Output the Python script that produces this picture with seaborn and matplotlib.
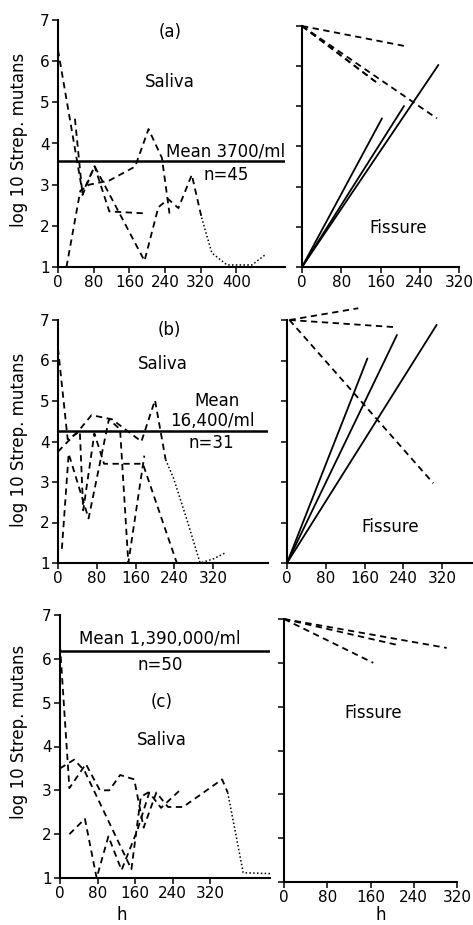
import numpy as np
import pandas as pd
import matplotlib
matplotlib.use('Agg')
import matplotlib.pyplot as plt
import seaborn as sns

# (a) saliva curves, h vs log10 count
a_s1_h = [0, 55, 82, 115, 200]
a_s1_y = [6.27, 2.8, 3.45, 2.35, 2.3]
a_s2_h = [38, 55, 82, 194, 225, 247, 270, 300, 322]
a_s2_y = [4.6, 2.75, 3.45, 1.15, 2.45, 2.65, 2.43, 3.24, 2.2]
a_s3_h = [19, 50, 70, 115, 173, 203, 233, 250]
a_s3_y = [1.0, 2.85, 3.0, 3.1, 3.44, 4.35, 3.65, 2.3]
a_dot_h = [322, 345, 379, 435, 465]
a_dot_y = [2.2, 1.34, 1.05, 1.05, 1.3]
a_mean = 3.57

# (a) fissure: end points of straight lines
a_f_dash_h = [214, 275, 159, 149]
a_f_dash_y = [6.49, 4.70, 5.53, 5.62]
a_f_solid_h = [163, 208, 278]
a_f_solid_y = [4.70, 5.01, 6.03]

# (b) saliva
b_s1_h = [0, 20, 45, 52, 75, 95, 175, 245, 285]
b_s1_y = [6.3, 4.05, 4.25, 2.3, 4.2, 3.45, 3.45, 1.0, 1.0]
b_s2_h = [8, 22, 63, 105, 128, 145, 178]
b_s2_y = [1.35, 3.7, 2.1, 4.55, 4.3, 1.0, 3.65]
b_s3_h = [0, 45, 69, 111, 172, 200, 222]
b_s3_y = [3.75, 4.3, 4.65, 4.55, 4.0, 5.02, 3.55]
b_dot_h = [222, 238, 265, 293, 320, 345]
b_dot_y = [3.55, 3.1, 2.1, 1.0, 1.1, 1.25]
b_mean = 4.25

# (b) fissure
b_f_dash_h = [147, 227, 302]
b_f_dash_y = [7.29, 6.82, 2.97]
b_f_solid_h = [166, 227, 309]
b_f_solid_y = [6.05, 6.63, 6.88]

# (c) saliva
c_s1_h = [0, 20, 55, 85, 105, 128, 158, 178, 205, 230, 262, 345, 357]
c_s1_y = [6.3, 3.05, 3.6, 3.0, 3.0, 3.35, 3.25, 2.15, 2.95, 2.62, 2.62, 3.25, 2.95]
c_dot_h = [357, 390, 447]
c_dot_y = [2.95, 1.12, 1.1]
c_s2_h = [0, 30, 52, 152, 172, 195]
c_s2_y = [3.5, 3.7, 3.45, 1.2, 2.85, 3.0]
c_s3_h = [20, 53, 78, 103, 131, 165, 190, 215, 255]
c_s3_y = [2.0, 2.35, 1.0, 1.95, 1.18, 2.1, 2.95, 2.6, 3.0]
c_mean = 6.17

# (c) fissure
c_f_dash_h = [301, 209, 165]
c_f_dash_y = [6.34, 6.41, 6.0]

sns.set_style('ticks')
plt.rcParams['font.family'] = ['DejaVu Sans']
plt.rcParams['text.color'] = 'black'

W, H = 473, 925
fig = plt.figure(figsize=(W / 100, H / 100), dpi=100)
fig.patch.set_facecolor('white')

DASH = (0, (3.5, 2.5))
DOT = (0, (1, 1.5))


def add_ax(x0, x1, ytop, ybot, xmax, xticks, ylabels):
    ax = fig.add_axes([x0 / W, 1 - ybot / H, (x1 - x0) / W, (ybot - ytop) / H])
    ax.set_xlim(0, xmax)
    ax.set_ylim(1, 7)
    ax.set_xticks(xticks)
    ax.set_yticks(range(1, 8))
    ax.tick_params(direction='out', length=4, width=1.1, labelsize=11, pad=2,
                   colors='black', labelcolor='black')
    if not ylabels:
        ax.tick_params(axis='y', labelleft=False)
    sns.despine(ax=ax)
    for s in ['left', 'bottom']:
        ax.spines[s].set_linewidth(1.5)
        ax.spines[s].set_color('black')
    ax.set_facecolor('white')
    return ax


def draw(ax, hs, ys, style, lw=1.3):
    sns.lineplot(x=hs, y=ys, ax=ax, color='black', linestyle=style, linewidth=lw,
                 sort=False, estimator=None, clip_on=False)


def fan(ax, h_end, y_end, y0, style, h0=0):
    for he, ye in zip(h_end, y_end):
        draw(ax, [h0, he], [y0, ye], style)


def txt(x, y, s, size=12, **kw):
    fig.text(x / W, 1 - y / H, s, fontsize=size, ha='center', va='center',
             color='black', **kw)


# panel (a)
ax = add_ax(58, 285, 20, 267, 509, [0, 80, 160, 240, 320, 400], True)
for hs, ys in [(a_s1_h, a_s1_y), (a_s2_h, a_s2_y), (a_s3_h, a_s3_y)]:
    draw(ax, hs, ys, DASH)
draw(ax, a_dot_h, a_dot_y, DOT, lw=1.1)
ax.axhline(a_mean, color='black', lw=1.8)

ax = add_ax(302, 459, 26, 267, 320, [0, 80, 160, 240, 320], False)
fan(ax, a_f_dash_h, a_f_dash_y, 7, DASH)
fan(ax, a_f_solid_h, a_f_solid_y, 1, '-')

# panel (b)
ax = add_ax(58, 268, 320, 563, 433, [0, 80, 160, 240, 320], True)
for hs, ys in [(b_s1_h, b_s1_y), (b_s2_h, b_s2_y), (b_s3_h, b_s3_y)]:
    draw(ax, hs, ys, DASH)
draw(ax, b_dot_h, b_dot_y, DOT, lw=1.1)
ax.axhline(b_mean, color='black', lw=1.8)

ax = add_ax(287, 473, 320, 563, 384, [0, 80, 160, 240, 320], False)
fan(ax, b_f_dash_h, b_f_dash_y, 7, DASH, h0=5)
fan(ax, b_f_solid_h, b_f_solid_y, 1, '-')

# panel (c)
ax = add_ax(60, 270, 615, 878, 447, [0, 80, 160, 240, 320], True)
for hs, ys in [(c_s1_h, c_s1_y), (c_s2_h, c_s2_y), (c_s3_h, c_s3_y)]:
    draw(ax, hs, ys, DASH)
draw(ax, c_dot_h, c_dot_y, DOT, lw=1.1)
ax.axhline(c_mean, color='black', lw=1.8)

ax = add_ax(284, 457, 619, 882, 320, [0, 80, 160, 240, 320], False)
fan(ax, c_f_dash_h, c_f_dash_y, 7, DASH)

# annotations
ylab = 'log 10 Strep. mutans'
for yc in [140, 440, 732]:
    txt(19, yc, ylab, rotation=90)

txt(170, 32, '(a)')
txt(170, 82, 'Saliva')
txt(226, 151, 'Mean 3700/ml')
txt(226, 175, 'n=45')
txt(398, 228, 'Fissure')

txt(169, 330, '(b)')
txt(163, 364, 'Saliva')
txt(217, 401, 'Mean')
txt(212, 421, '16,400/ml')
txt(211, 443, 'n=31')
txt(390, 527, 'Fissure')

txt(160, 639, 'Mean 1,390,000/ml')
txt(160, 665, 'n=50')
txt(162, 702, '(c)')
txt(162, 740, 'Saliva')
txt(373, 713, 'Fissure')
txt(122, 915, 'h')
txt(381, 915, 'h')

fig.savefig('out.png', dpi=100, facecolor='white')
